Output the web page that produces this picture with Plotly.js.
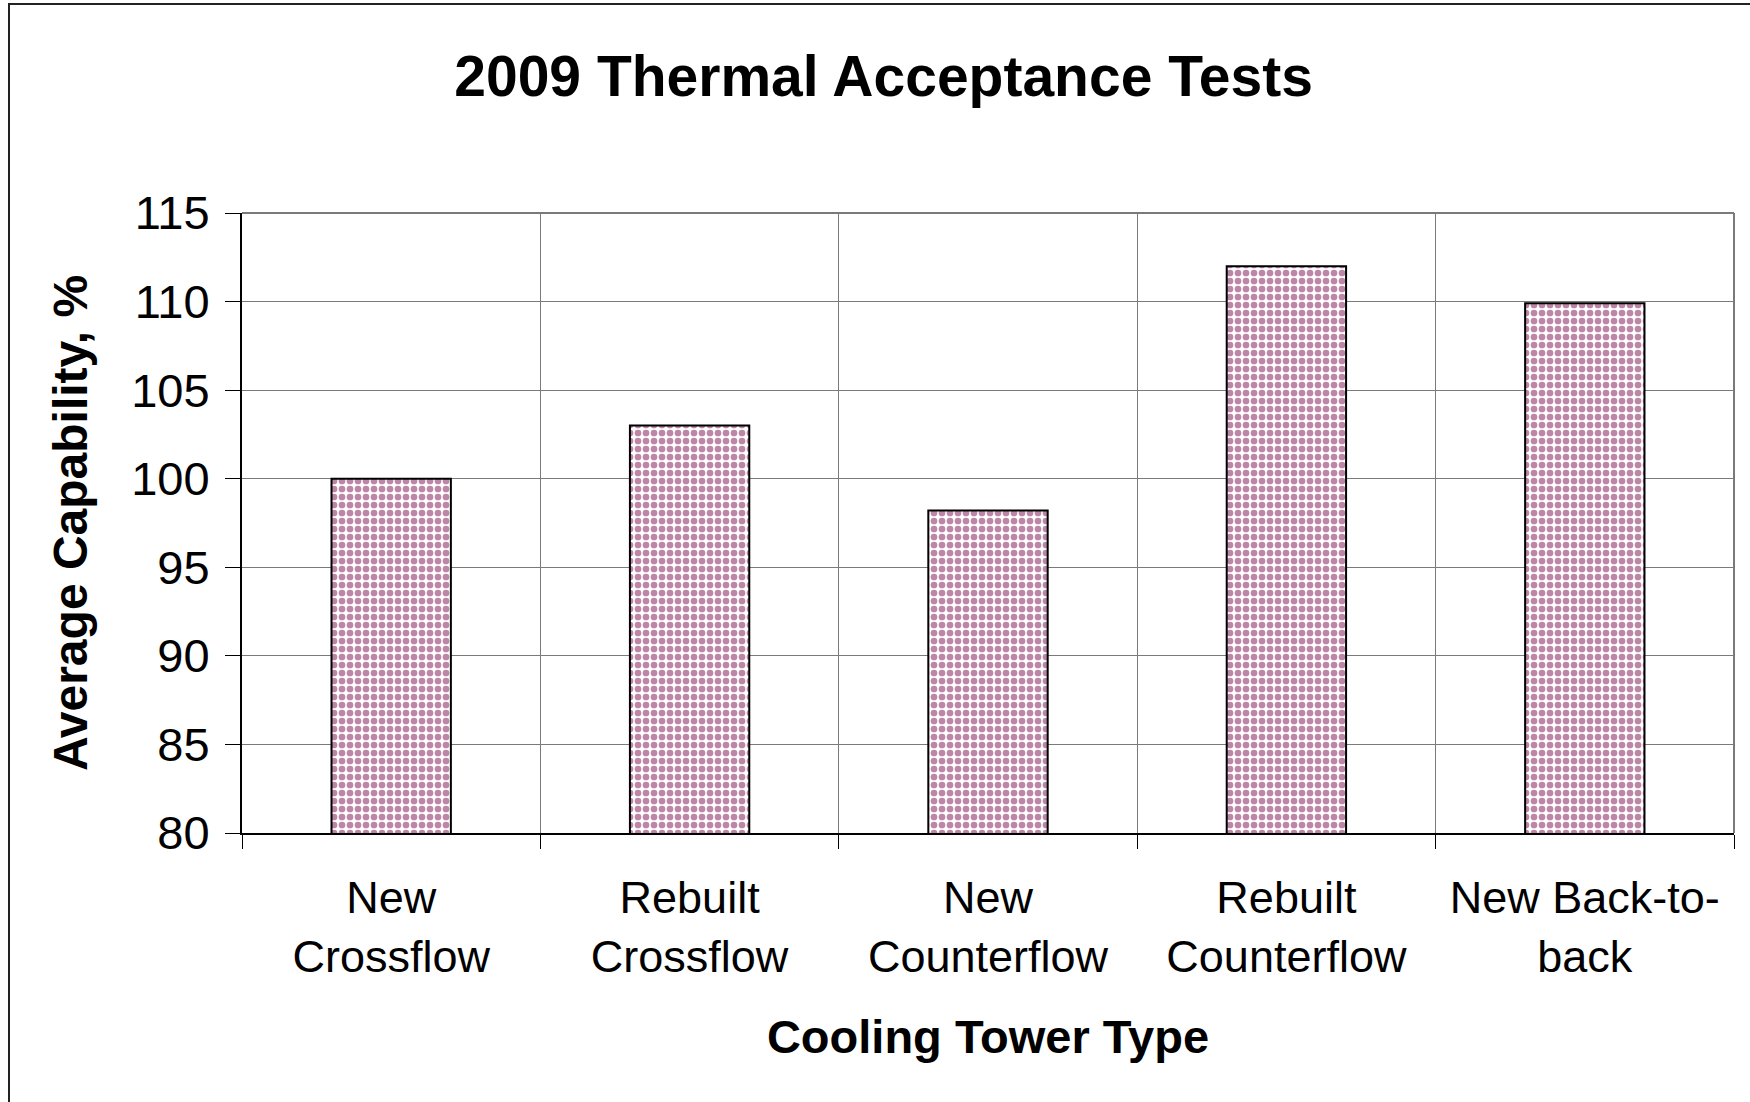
<!DOCTYPE html>
<html>
<head>
<meta charset="utf-8">
<script src="https://cdn.plot.ly/plotly-3.0.1.min.js"></script>
<style>
  html, body { margin: 0; padding: 0; background: #fff; }
  #wrap { position: relative; width: 1750px; height: 1102px; overflow: hidden; }
  #frame { position: absolute; left: 8px; top: 3px; right: -10px; bottom: -10px;
           border-left: 2px solid #222; border-top: 2px solid #222; }
  #chart { position: absolute; left: 0; top: 0; width: 1750px; height: 1102px; }
</style>
</head>
<body>
<div id="wrap">
  <div id="frame"></div>
  <div id="chart"></div>
</div>
<script>
const categories = ["New<br>Crossflow", "Rebuilt<br>Crossflow", "New<br>Counterflow", "Rebuilt<br>Counterflow", "New Back-to-<br>back"];
const capability = [100, 103, 98.2, 112, 109.9];
const yTickValues = [80, 85, 90, 95, 100, 105, 110, 115];

const FONT = "Liberation Sans, Arial, Helvetica, sans-serif";

const trace = {
  type: "bar",
  x: categories,
  y: capability,
  width: 0.4,
  marker: {
    color: "#ffffff",
    line: { color: "#000000", width: 2 },
    pattern: { shape: ".", fgcolor: "#7a0e4e", bgcolor: "#ffffff", size: 8, solidity: 0.55, fillmode: "overlay" }
  },
  hoverinfo: "x+y"
};

const layout = {
  width: 1750,
  height: 1102,
  paper_bgcolor: "rgba(0,0,0,0)",
  plot_bgcolor: "rgba(0,0,0,0)",
  margin: { l: 242, r: 16, t: 213, b: 269 },
  showlegend: false,
  font: { family: FONT, color: "#000" },
  title: {
    text: "<b>2009 Thermal Acceptance Tests</b>",
    font: { family: FONT, size: 57, color: "#000" },
    x: 0.43, xanchor: "center", xref: "paper",
    y: 1 - 76 / 1102, yanchor: "middle", yref: "container"
  },
  xaxis: {
    type: "category",
    tickson: "boundaries",
    ticks: "outside",
    ticklen: 14,
    tickwidth: 1,
    tickcolor: "#000",
    showgrid: true,
    gridcolor: "#7a7a7a",
    gridwidth: 1,
    showline: true,
    linecolor: "#000",
    linewidth: 2,
    tickfont: { family: FONT, size: 45, color: "#000" },
    ticklabelstandoff: 24,
    title: {
      text: "<b>Cooling Tower Type</b>",
      font: { family: FONT, size: 47, color: "#000" },
      standoff: 40
    },
    fixedrange: true
  },
  yaxis: {
    range: [80, 115],
    tickvals: yTickValues,
    ticks: "outside",
    ticklen: 15,
    tickwidth: 1,
    tickcolor: "#000",
    showgrid: true,
    gridcolor: "#7a7a7a",
    gridwidth: 1,
    showline: true,
    linecolor: "#000",
    linewidth: 2,
    zeroline: false,
    tickfont: { family: FONT, size: 47, color: "#000" },
    ticklabelstandoff: 6,
    title: {
      text: "<b>Average Capability, %</b>",
      font: { family: FONT, size: 48, color: "#000" },
      standoff: 28
    },
    fixedrange: true
  },
  shapes: [
    { type: "line", xref: "paper", yref: "paper", x0: 1, x1: 1, y0: 0, y1: 1, line: { color: "#7a7a7a", width: 2 } },
    { type: "line", xref: "paper", yref: "paper", x0: 0, x1: 1, y0: 1, y1: 1, line: { color: "#7a7a7a", width: 2 } }
  ]
};

Plotly.newPlot("chart", [trace], layout, { displayModeBar: false, staticPlot: true });
</script>
</body>
</html>
